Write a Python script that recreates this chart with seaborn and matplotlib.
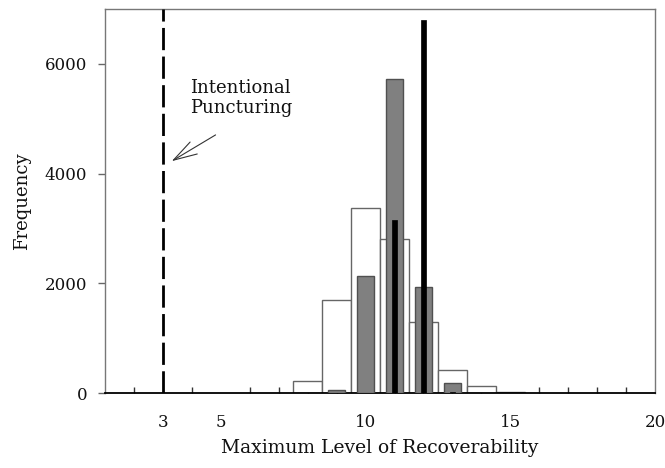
import numpy as np
import pandas as pd
import matplotlib
matplotlib.use("Agg")
import matplotlib.pyplot as plt
import seaborn as sns

# Frequency of the maximum level of recoverability for three configurations
levels_wide = [8, 9, 10, 11, 12, 13, 14, 15]
freq_wide = [220, 1700, 3380, 2800, 1300, 430, 135, 25]

levels_mid = [9, 10, 11, 12, 13]
freq_mid = [50, 2130, 5720, 1930, 176]

levels_narrow = [11, 12, 13]
freq_narrow = [3160, 6800, 20]

puncture_level = 3
x_ticks = [3, 5, 10, 15, 20]
y_ticks = [0, 2000, 4000, 6000]

sns.set_style("white")
plt.rcParams["font.family"] = ["DejaVu Serif"]
plt.rcParams["text.color"] = "#111111"
plt.rcParams["axes.labelcolor"] = "#111111"
plt.rcParams["xtick.labelcolor"] = "#111111"
plt.rcParams["ytick.labelcolor"] = "#111111"

fig = plt.figure(figsize=(6.65, 4.68), dpi=100)
ax = fig.add_axes([0.158, 0.160, 0.827, 0.821])

df_w = pd.DataFrame({"level": levels_wide, "freq": freq_wide})
df_m = pd.DataFrame({"level": levels_mid, "freq": freq_mid})
df_n = pd.DataFrame({"level": levels_narrow, "freq": freq_narrow})

sns.barplot(data=df_w, x="level", y="freq", native_scale=True, width=1.0,
            color="white", edgecolor="#666666", linewidth=1.0, saturation=1,
            ax=ax, zorder=2)
sns.barplot(data=df_m, x="level", y="freq", native_scale=True, width=0.6,
            color="#808080", edgecolor="#505050", linewidth=1.0, saturation=1,
            ax=ax, zorder=3)
sns.barplot(data=df_n, x="level", y="freq", native_scale=True, width=0.2,
            color="black", edgecolor="black", linewidth=0.5, saturation=1,
            ax=ax, zorder=4)

ax.axvline(puncture_level, color="black", lw=2.0, dashes=(8, 2.3), zorder=5)

ax.text(3.93, 5380, "Intentional\nPuncturing", ha="left", va="center",
        fontsize=13, linespacing=1.15)
ax.annotate("", xy=(3.22, 4200), xytext=(4.9, 4730),
            arrowprops=dict(arrowstyle="->,head_length=1.7,head_width=0.5",
                            color="#333333", lw=0.8))

ax.set_xlim(1, 20)
ax.set_ylim(0, 7000)

ax.set_xticks(x_ticks)
ax.set_xticklabels([str(t) for t in x_ticks])
ax.set_xticks([v for v in range(2, 20) if v not in x_ticks], minor=True)
ax.set_yticks(y_ticks)
ax.set_yticklabels([str(t) for t in y_ticks])

ax.tick_params(axis="x", which="major", direction="out", length=5, width=1,
               color="#333333", labelsize=12, pad=10)
ax.tick_params(axis="x", which="minor", direction="in", length=4, width=1,
               color="#333333", bottom=True)
ax.tick_params(axis="y", which="major", direction="out", length=5, width=1,
               color="#666666", labelsize=12, left=True, pad=8)
ax.xaxis.get_major_ticks()[0].tick1line.set_visible(False)

for side in ["top", "right", "left"]:
    ax.spines[side].set_color("#777777")
    ax.spines[side].set_linewidth(1.0)
ax.spines["bottom"].set_color("black")
ax.spines["bottom"].set_linewidth(1.3)

ax.set_xlabel("Maximum Level of Recoverability", fontsize=13.5, labelpad=6)
ax.set_ylabel("Frequency", fontsize=13, labelpad=10)

fig.savefig("out.png", dpi=100, facecolor="white")
